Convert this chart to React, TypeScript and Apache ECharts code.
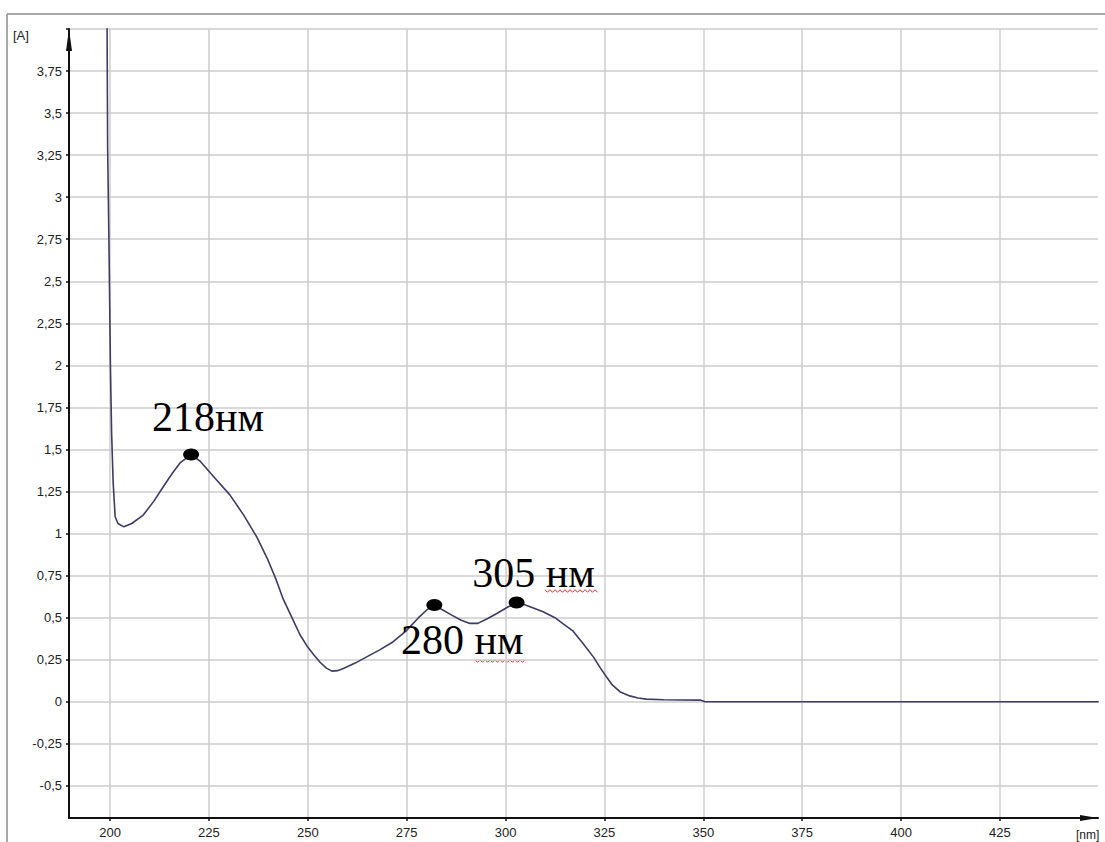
import React, { useEffect, useRef } from "react";
import * as echarts from "echarts";

// Spectrum (wavelength in nm, absorbance in A)
const wavelengths = [
  199.2, 199.4, 199.8, 200.1, 200.4, 200.8, 201.3, 202.0, 203.5, 205.5,
  208.4, 211.0, 213.5, 215.8, 217.7, 220.5, 222.8, 226.5, 230.3, 233.8,
  237.1, 239.8, 242.1, 243.8, 246.3, 248.0, 249.7, 251.5, 253.1, 254.7,
  256.1, 257.5, 259.0, 262.0, 264.9, 268.3, 271.6, 274.8, 278.0, 280.3,
  282.0, 283.8, 286.4, 288.8, 291.0, 293.0, 295.5, 297.8, 300.7, 302.8,
  304.5, 306.2, 309.5, 312.5, 314.5, 317.1, 319.5, 322.2, 324.0, 325.5,
  327.0, 328.9, 331.4, 333.5, 335.6, 340.0, 349.2, 350.5, 400.0, 450.0,
];
const absorbance = [
  4.3, 3.3, 2.6, 2.0, 1.6, 1.3, 1.1, 1.06, 1.04, 1.06,
  1.11, 1.19, 1.28, 1.36, 1.42, 1.47, 1.43, 1.33, 1.23, 1.11,
  0.98, 0.85, 0.72, 0.61, 0.485, 0.4, 0.335, 0.28, 0.235, 0.2,
  0.182, 0.185, 0.198, 0.23, 0.267, 0.31, 0.357, 0.42, 0.5, 0.55,
  0.57, 0.55, 0.515, 0.485, 0.466, 0.466, 0.495, 0.525, 0.565, 0.585,
  0.58, 0.565, 0.535, 0.5, 0.465, 0.42, 0.35, 0.267, 0.2, 0.149,
  0.1, 0.06, 0.035, 0.022, 0.016, 0.012, 0.01, 0.0, 0.0, 0.0,
];

const peakWavelengths = [220.5, 282.0, 302.8];
const peakAbsorbance = [1.47, 0.575, 0.59];
const peakLabels = ["218нм", "280 нм", "305 нм"];

const yTickValues = [-0.5, -0.25, 0, 0.25, 0.5, 0.75, 1, 1.25, 1.5, 1.75, 2, 2.25, 2.5, 2.75, 3, 3.25, 3.5, 3.75];
const xTickValues = [200, 225, 250, 275, 300, 325, 350, 375, 400, 425];

const yUnit = "[A]";
const xUnit = "[nm]";

function squiggle(x0: number, x1: number, y: number) {
  const pts: number[][] = [];
  let up = true;
  for (let x = x0; x <= x1; x += 2.5) {
    pts.push([x, y + (up ? -1.3 : 1.3)]);
    up = !up;
  }
  return pts;
}

export default function App() {
  const ref = useRef<HTMLDivElement>(null);
  useEffect(() => {
    if (!ref.current) return;
    const chart = echarts.init(ref.current, undefined, { renderer: "svg" });
    const labelOffsets = [
      [17, -38],
      [28, 35],
      [17, -30],
    ];
    const axisFont = "Liberation Sans, Arial, sans-serif";
    const option: any = {
      animation: false,
      backgroundColor: "#ffffff",
      grid: { left: 69, right: 7, top: 29, bottom: 24, containLabel: false, outerBoundsMode: "none" },
      xAxis: {
        type: "value",
        min: 189.63,
        max: 449.8,
        axisLine: {
          show: true,
          onZero: false,
          symbol: ["none", "triangle"],
          symbolSize: [6, 18],
          symbolOffset: [0, -9],
          lineStyle: { color: "#111", width: 2 },
        },
        axisTick: { show: true, length: 3, customValues: xTickValues, lineStyle: { color: "#111", width: 1.5 } },
        axisLabel: {
          customValues: xTickValues,
          fontFamily: axisFont,
          fontSize: 13,
          color: "#222",
          margin: 8,
        },
        splitLine: { show: true, lineStyle: { color: "#cdcdcd", width: 1.5 } },
      },
      yAxis: {
        type: "value",
        min: -0.691,
        max: 4.0,
        axisLine: {
          show: true,
          onZero: false,
          symbol: ["none", "triangle"],
          symbolSize: [6, 22],
          symbolOffset: [0, -11],
          lineStyle: { color: "#111", width: 2 },
        },
        axisTick: { show: true, length: 3, customValues: [...yTickValues, 4], lineStyle: { color: "#111", width: 1.5 } },
        axisLabel: {
          customValues: yTickValues,
          formatter: (v: number) => String(v).replace(".", ","),
          fontFamily: axisFont,
          fontSize: 13,
          color: "#222",
          margin: 7,
        },
        splitLine: { show: true, lineStyle: { color: "#cdcdcd", width: 1.5 } },
      },
      series: [
        {
          type: "line",
          data: wavelengths.map((w, i) => [w, absorbance[i]]),
          showSymbol: false,
          clip: true,
          lineStyle: { color: "#3c3c64", width: 1.6 },
          z: 3,
        },
        {
          type: "scatter",
          symbol: "circle",
          symbolSize: [16, 12],
          itemStyle: { color: "#000", opacity: 1 },
          z: 4,
          data: peakWavelengths.map((w, i) => ({
            value: [w, peakAbsorbance[i]],
            label: {
              show: true,
              position: "inside",
              offset: labelOffsets[i],
              formatter: () => peakLabels[i],
              fontFamily: "Liberation Serif, Times New Roman, serif",
              fontSize: 42,
              color: "#000",
              align: "center",
              verticalAlign: "middle",
            },
          })),
        },
      ],
      graphic: [
        { type: "line", shape: { x1: 7, y1: 14, x2: 7, y2: 842 }, style: { stroke: "#a8a8a8", lineWidth: 2 } },
        { type: "line", shape: { x1: 7, y1: 14, x2: 1105, y2: 14 }, style: { stroke: "#a8a8a8", lineWidth: 2 } },
        {
          type: "text",
          left: 13,
          top: 29,
          style: { text: yUnit, fontFamily: axisFont, fontSize: 13, fill: "#222" },
        },
        {
          type: "text",
          left: 1076,
          top: 829,
          style: { text: xUnit, fontFamily: axisFont, fontSize: 12, fill: "#222" },
        },
        { type: "polyline", shape: { points: squiggle(545, 598, 591) }, style: { stroke: "#e03030", lineWidth: 1, fill: null } },
        { type: "polyline", shape: { points: squiggle(475, 527, 661) }, style: { stroke: "#e03030", lineWidth: 1, fill: null } },
      ],
    };
    chart.setOption(option);
    return () => chart.dispose();
  }, []);
  return (
    <div
      ref={ref}
      style={{ position: "absolute", left: 0, top: 0, width: 1105, height: 842, background: "#fff" }}
    />
  );
}
